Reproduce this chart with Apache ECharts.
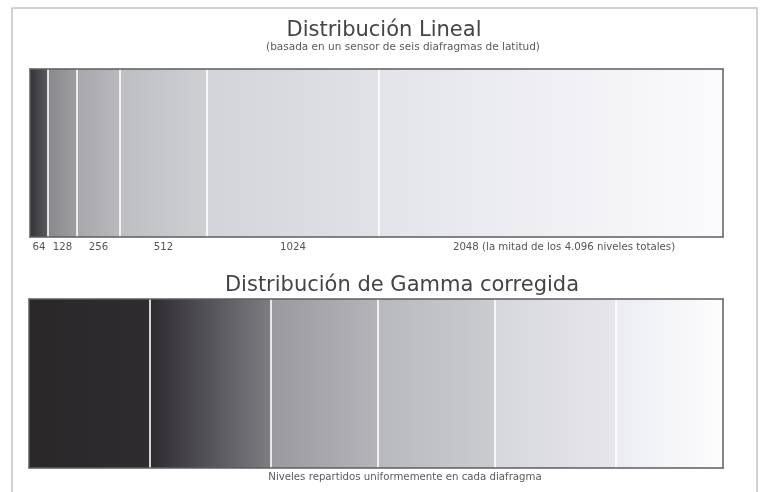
<!DOCTYPE html>
<html>
<head>
<meta charset="utf-8">
<script src="https://cdn.jsdelivr.net/npm/echarts@6/dist/echarts.min.js"></script>
<style>
html,body{margin:0;padding:0;background:#fff;}
#chart{width:761px;height:492px;}
</style>
</head>
<body>
<div id="chart"></div>
<script>
// ---- data ----
const titleTop = 'Distribución Lineal';
const subtitleTop = '(basada en un sensor de seis diafragmas de latitud)';
const titleBottom = 'Distribución de Gamma corregida';
const captionBottom = 'Niveles repartidos uniformemente en cada diafragma';

// top bar: segment labels (levels per stop) and displayed widths
const topLabels = ['64', '128', '256', '512', '1024', '2048 (la mitad de los 4.096 niveles totales)'];
const topWidths = [107, 173, 256, 518, 1024, 2048];
const topStart = ['#333338', '#88888d', '#a7a7ab', '#bdbec2', '#d3d4d9', '#e3e4ea'];
const topEnd   = ['#5a5a5f', '#9d9da2', '#b8b8bd', '#cfd0d4', '#e1e2e7', '#fbfbfd'];

// bottom bar: six stops, levels spread uniformly per stop (widths)
const bottomWidths = [121, 121, 107, 117, 121, 107];
const bottomStart = ['#2a2729', '#2d2b2f', '#9a999e', '#b8b9bd', '#d6d7dd', '#ecedf2'];
const bottomEnd   = ['#2f2c30', '#7e7d82', '#b4b4b9', '#cbccd0', '#e6e6ec', '#fdfdfe'];

// ---- build ----
function sum(a){ return a.reduce((s,v)=>s+v,0); }
function cumulative(a){ const out=[]; let s=0; for(let i=0;i<a.length-1;i++){ s+=a[i]; out.push(s);} return out; }
function grad(c0,c1){ return new echarts.graphic.LinearGradient(0,0,1,0,[{offset:0,color:c0},{offset:1,color:c1}]); }

const FONT = 'DejaVu Sans';
const frameLine = {show:true, onZero:false, lineStyle:{color:'#5e5e62', width:1.5}};
function xAx(g, max, pos){ return {gridIndex:g, type:'value', min:0, max:max, position:pos, z:10,
  axisLine:frameLine, axisTick:{show:false}, axisLabel:{show:false}, splitLine:{show:false}}; }
function yAx(g, pos){ return {gridIndex:g, type:'category', data:['a'], position:pos, z:10,
  axisLine:frameLine, axisTick:{show:false}, axisLabel:{show:false}, splitLine:{show:false}}; }

const series = [];
function addBar(g, widths, c0, c1, labels, stack){
  const bounds = cumulative(widths);
  widths.forEach((w,i)=>{
    const last = i===widths.length-1;
    const s = {
      type:'bar', xAxisIndex:g*2, yAxisIndex:g*2, stack:stack, barWidth:'100%', barCategoryGap:0,
      data:[w], itemStyle:{color:grad(c0[i],c1[i])}, silent:true,
      label: labels ? {show:true, position:'bottom', distance:5, formatter:labels[i],
        offset: last ? [13,0] : [0,0],
        color:'#55555a', fontSize:10.2, fontFamily:FONT} : {show:false}
    };
    if(last){
      s.markLine = {silent:true, symbol:'none', label:{show:false},
        lineStyle:{color:'#ffffff', width:1.6, type:'solid'},
        data: bounds.map(b=>({xAxis:b}))};
    }
    series.push(s);
  });
}
addBar(0, topWidths, topStart, topEnd, topLabels, 'top');
addBar(1, bottomWidths, bottomStart, bottomEnd, null, 'bottom');

const chart = echarts.init(document.getElementById('chart'), null, {renderer:'canvas'});
chart.setOption({
  animation:false,
  backgroundColor:'#ffffff',
  graphic:[{type:'rect', shape:{x:12, y:8, width:745, height:500}, style:{fill:'none', stroke:'#c4c4c8', lineWidth:1.5}, z:0}],
  title:[
    {text:titleTop, left:379, top:15, textAlign:'center', textStyle:{fontFamily:FONT, fontSize:21, fontWeight:'normal', color:'#444448'}},
    {text:subtitleTop, left:398, top:37, textAlign:'center', textStyle:{fontFamily:FONT, fontSize:10.5, fontWeight:'normal', color:'#5a5a5e'}},
    {text:titleBottom, left:397, top:270, textAlign:'center', textStyle:{fontFamily:FONT, fontSize:21, fontWeight:'normal', color:'#444448'}},
    {text:captionBottom, left:400, top:467, textAlign:'center', textStyle:{fontFamily:FONT, fontSize:10.2, fontWeight:'normal', color:'#5a5a5e'}}
  ],
  grid:[
    {left:30, top:69, width:693, height:168},
    {left:29, top:299, width:694, height:169}
  ],
  xAxis:[xAx(0,sum(topWidths),'bottom'), xAx(0,sum(topWidths),'top'), xAx(1,sum(bottomWidths),'bottom'), xAx(1,sum(bottomWidths),'top')],
  yAxis:[yAx(0,'left'), yAx(0,'right'), yAx(1,'left'), yAx(1,'right')],
  series:series
});
</script>
</body>
</html>
